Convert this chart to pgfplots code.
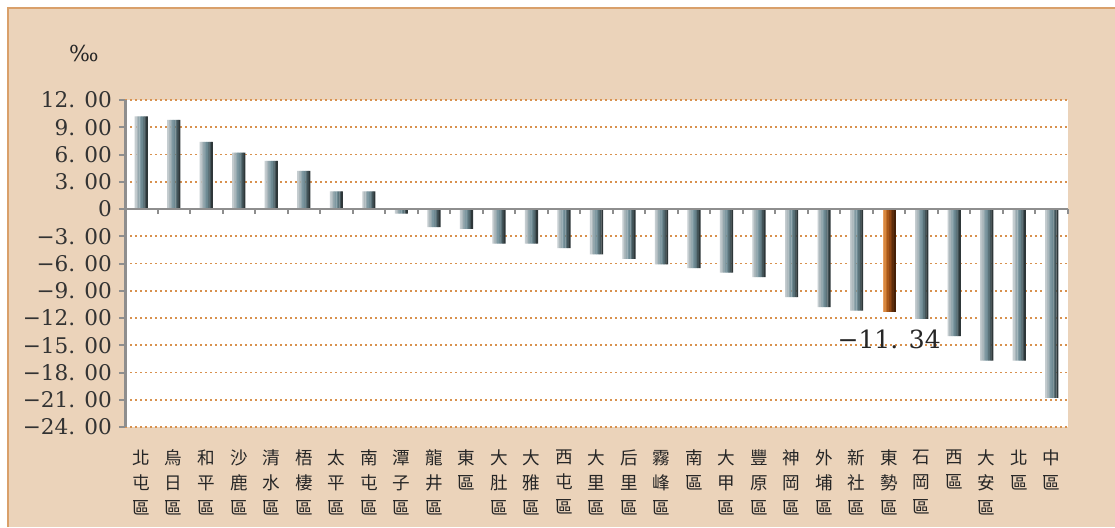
\documentclass[border=0pt]{standalone}
\usepackage{pgfplots}
\usepackage{pgfplotstable}
\pgfplotsset{compat=1.18}
\usepackage{fontspec}
\setmainfont{DejaVu Serif}
\newfontfamily\cjk{Noto Sans CJK TC}
\definecolor{bgbeige}{HTML}{EBD3BA}
\definecolor{edgeor}{HTML}{D9A06A}
\definecolor{gridor}{HTML}{D8914E}
\definecolor{axgray}{HTML}{8E8E8E}
% gray bar stripes, left (light) to right (dark)
\definecolor{g0}{HTML}{C5CDD0}
\definecolor{g1}{HTML}{AEB9BD}
\definecolor{g2}{HTML}{95A8AE}
\definecolor{g3}{HTML}{7F99A2}
\definecolor{g4}{HTML}{6E8A93}
\definecolor{g5}{HTML}{5B737A}
\definecolor{g6}{HTML}{44555A}
\definecolor{g7}{HTML}{2E3739}
% brown bar stripes
\definecolor{b0}{HTML}{E8A060}
\definecolor{b1}{HTML}{D7873F}
\definecolor{b2}{HTML}{C06E28}
\definecolor{b3}{HTML}{A8581A}
\definecolor{b4}{HTML}{904714}
\definecolor{b5}{HTML}{773A10}
\definecolor{b6}{HTML}{5E2D0C}
\definecolor{b7}{HTML}{452008}

\pgfplotstableread{
x y
0 10.2
1 9.8
2 7.4
3 6.2
4 5.3
5 4.2
6 1.95
7 1.95
8 -0.5
9 -2.0
10 -2.2
11 -3.8
12 -3.8
13 -4.3
14 -5.0
15 -5.5
16 -6.1
17 -6.5
18 -7.0
19 -7.5
20 -9.7
21 -10.8
22 -11.2
24 -12.1
25 -14.0
26 -16.7
27 -16.7
28 -20.8
}\grayt
\pgfplotstableread{
x y
23 -11.34
}\brownt

\begin{document}
\begin{tikzpicture}
\path[use as bounding box, fill=white] (0,0) rectangle (557.5pt,263.5pt);
\fill[bgbeige] (4pt,0) rectangle (557.5pt,259.5pt);
\draw[edgeor, line width=1pt] (4pt,0) -- (4pt,259.5pt) -- (557.5pt,259.5pt);
\begin{axis}[
  at={(62.5pt,50pt)}, anchor=south west,
  width=471.5pt, height=163.5pt, scale only axis,
  axis background/.style={fill=white},
  xmin=-0.5, xmax=28.5, ymin=-24, ymax=12,
  axis lines*=left,
  x axis line style={draw=none},
  y axis line style={axgray, line width=1.5pt},
  ymajorgrids,
  grid style={gridor, line width=0.85pt, dash pattern=on 1pt off 1.5pt},
  tick align=outside,
  major tick length=3pt,
  ytick style={axgray, line width=1pt},
  xtick style={draw=none},
  ytick={-24,-21,...,12},
  yticklabels={−24. 00,−21. 00,−18. 00,−15. 00,−12. 00,−9. 00,−6. 00,−3. 00,0,3. 00,6. 00,9. 00,12. 00},
  yticklabel style={font=\fontsize{10.8}{12}\selectfont, text=black!80},
  xtick={0,...,28},
  xticklabels={{北\\屯\\區},{烏\\日\\區},{和\\平\\區},{沙\\鹿\\區},{清\\水\\區},{梧\\棲\\區},{太\\平\\區},{南\\屯\\區},{潭\\子\\區},{龍\\井\\區},{東\\區},{大\\肚\\區},{大\\雅\\區},{西\\屯\\區},{大\\里\\區},{后\\里\\區},{霧\\峰\\區},{南\\區},{大\\甲\\區},{豐\\原\\區},{神\\岡\\區},{外\\埔\\區},{新\\社\\區},{東\\勢\\區},{石\\岡\\區},{西\\區},{大\\安\\區},{北\\區},{中\\區}},
  xticklabel style={font=\cjk\fontsize{8.8}{12.5}\selectfont, align=center, anchor=north, yshift=-5pt, text=black!85},
  every axis plot/.append style={ybar, bar width=0.056, draw=none},
  clip=false
]
% each bar is built from 8 thin stripes to imitate the cylinder shading
\addplot[fill=g0, bar shift=-0.175] table[x=x,y=y] {\grayt};
\addplot[fill=g1, bar shift=-0.125] table[x=x,y=y] {\grayt};
\addplot[fill=g2, bar shift=-0.075] table[x=x,y=y] {\grayt};
\addplot[fill=g3, bar shift=-0.025] table[x=x,y=y] {\grayt};
\addplot[fill=g4, bar shift=0.025] table[x=x,y=y] {\grayt};
\addplot[fill=g5, bar shift=0.075] table[x=x,y=y] {\grayt};
\addplot[fill=g6, bar shift=0.125] table[x=x,y=y] {\grayt};
\addplot[fill=g7, bar shift=0.175] table[x=x,y=y] {\grayt};
\addplot[fill=b0, bar shift=-0.175] table[x=x,y=y] {\brownt};
\addplot[fill=b1, bar shift=-0.125] table[x=x,y=y] {\brownt};
\addplot[fill=b2, bar shift=-0.075] table[x=x,y=y] {\brownt};
\addplot[fill=b3, bar shift=-0.025] table[x=x,y=y] {\brownt};
\addplot[fill=b4, bar shift=0.025] table[x=x,y=y] {\brownt};
\addplot[fill=b5, bar shift=0.075] table[x=x,y=y] {\brownt};
\addplot[fill=b6, bar shift=0.125] table[x=x,y=y] {\brownt};
\addplot[fill=b7, bar shift=0.175] table[x=x,y=y] {\brownt};
\draw[axgray, line width=1.2pt] (axis cs:-0.5,0) -- (axis cs:28.5,0);
\pgfplotsinvokeforeach{-0.5,0.5,...,28.5}{
  \draw[axgray, line width=1pt] (axis cs:#1,0) -- ([yshift=-2.5pt]axis cs:#1,0);
}
\node[font=\fontsize{12.5}{14}\selectfont, text=black!85] at (axis cs:23,-11.34) [yshift=-13.7pt] {−11. 34};
\end{axis}
\node[font=\fontsize{11}{12}\selectfont, text=black!85] at (42pt,237pt) {‰};
\end{tikzpicture}
\end{document}
